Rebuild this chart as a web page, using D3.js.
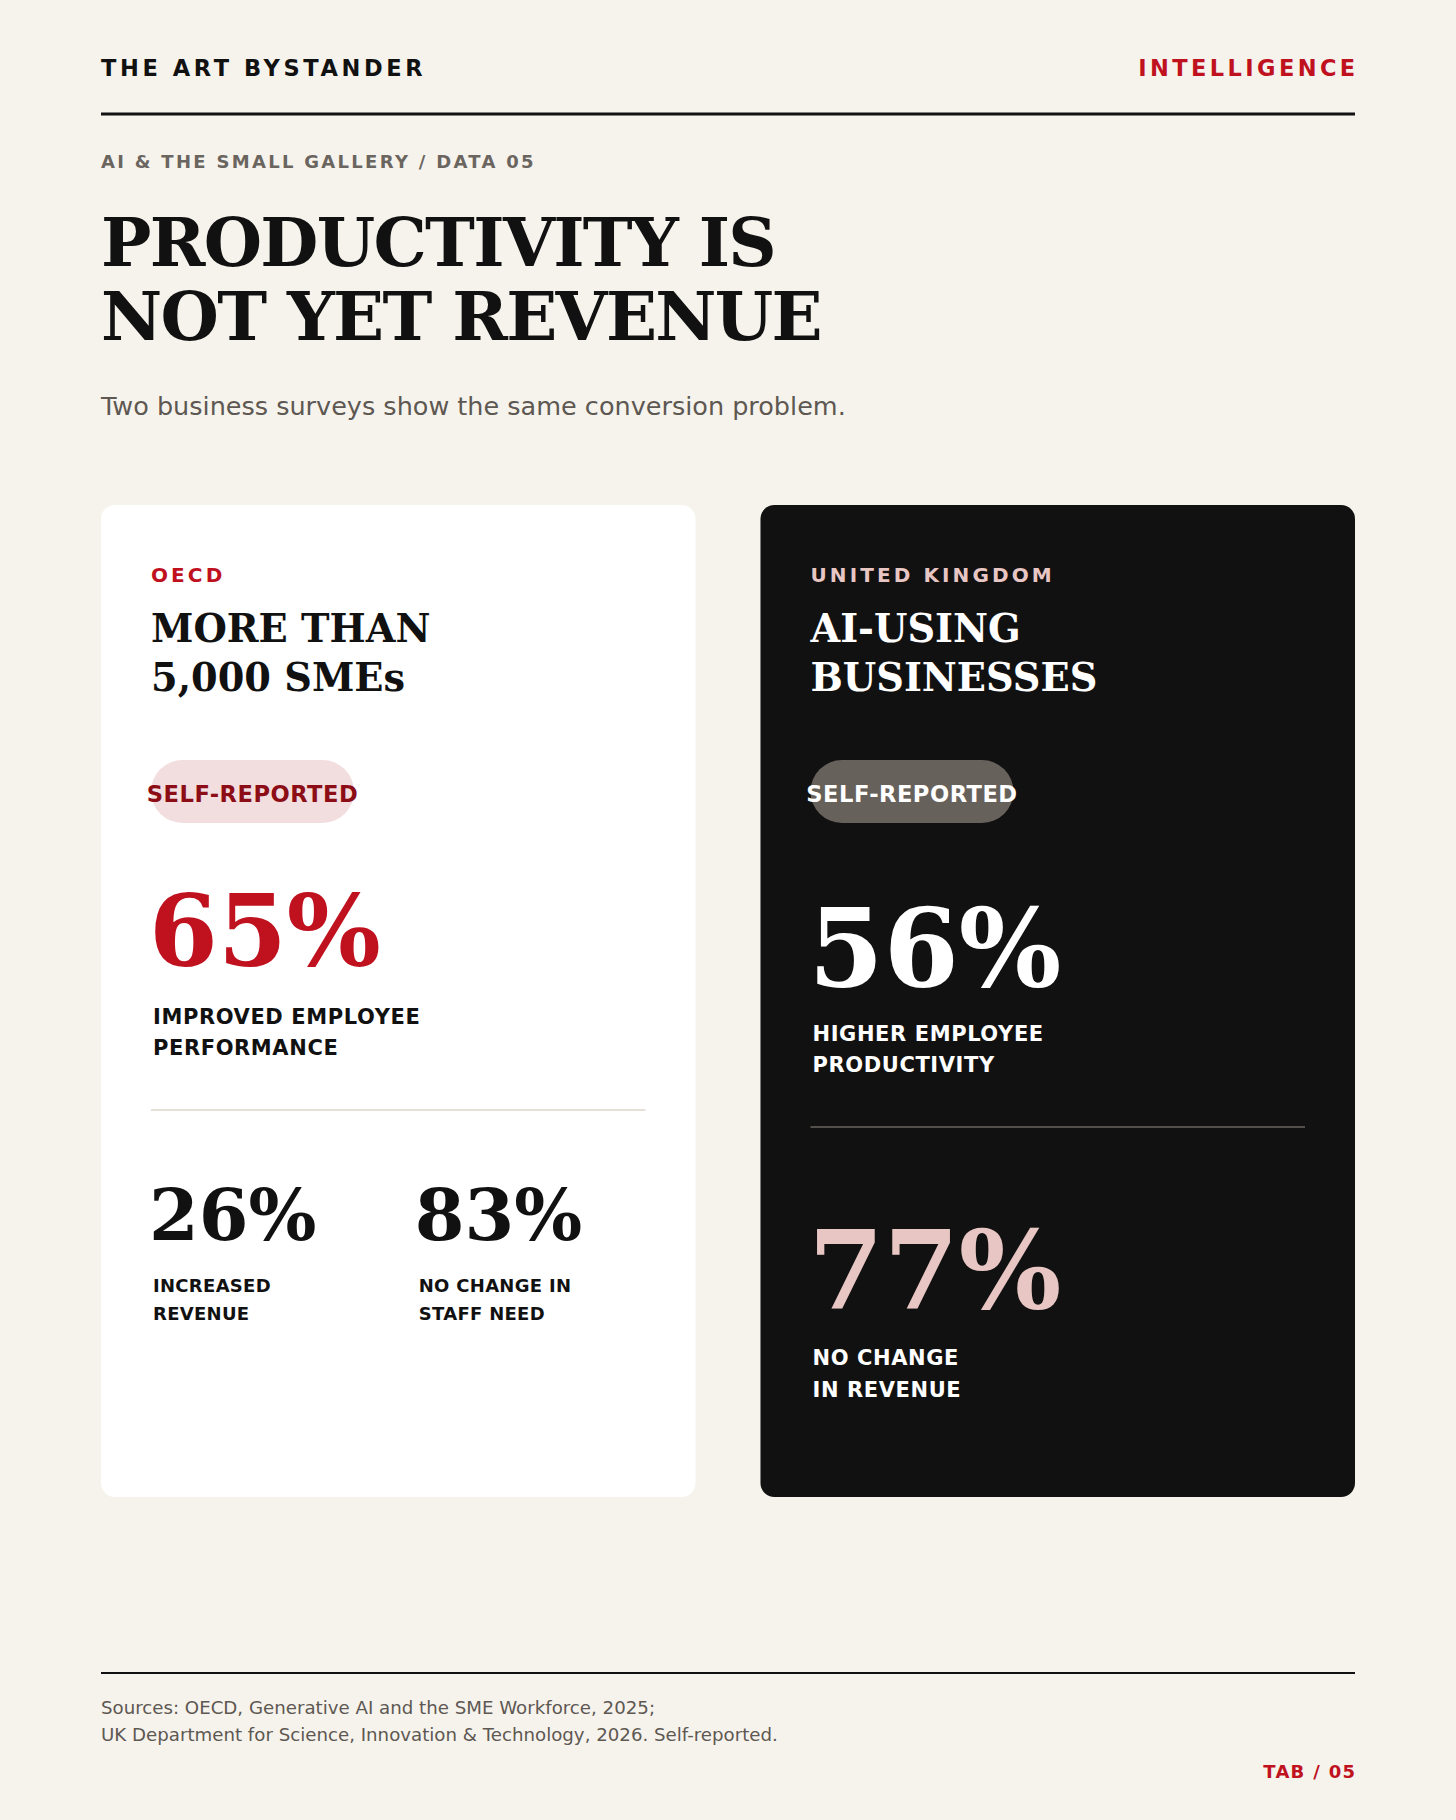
<!DOCTYPE html>
<html>
<head>
<meta charset="utf-8">
<script src="https://cdn.jsdelivr.net/npm/d3@7"></script>
<style>
  html, body { margin: 0; padding: 0; background: #f6f3ed; }
  svg { display: block; }
</style>
</head>
<body>
<div id="chart"></div>
<script>
// ---- data ----
const sources = ["OECD", "UNITED KINGDOM"];
const cohorts = [["MORE THAN", "5,000 SMEs"], ["AI-USING", "BUSINESSES"]];
const badge = ["SELF-REPORTED", "SELF-REPORTED"];
const leadValues = [65, 56];
const leadLabels = [["IMPROVED EMPLOYEE", "PERFORMANCE"], ["HIGHER EMPLOYEE", "PRODUCTIVITY"]];
const oecdSubValues = [26, 83];
const oecdSubLabels = [["INCREASED", "REVENUE"], ["NO CHANGE IN", "STAFF NEED"]];
const ukSubValues = [77];
const ukSubLabels = [["NO CHANGE", "IN REVENUE"]];
const sourceNotes = [
  "Sources: OECD, Generative AI and the SME Workforce, 2025;",
  "UK Department for Science, Innovation & Technology, 2026. Self-reported."
];

const W = 1456, H = 1820;
const sans = "'DejaVu Sans', sans-serif", serif = "'DejaVu Serif', serif";
const red = "#c0111f", ink = "#111111", grey = "#5e5852";

const svg = d3.select('#chart').append('svg')
    .attr('width', W).attr('height', H);

svg.append('rect').attr('width', W).attr('height', H).attr('fill', '#f6f3ed');

const margin = {left: 101, right: 101};
const x0 = margin.left, x1 = W - margin.right;

// masthead
svg.append('text').attr('x', x0).attr('y', 76)
    .attr('font-family', sans).attr('font-weight', 700).attr('font-size', 22.5)
    .attr('letter-spacing', 3.6).attr('fill', ink).text('THE ART BYSTANDER');
svg.append('text').attr('x', x1 + 3.6).attr('y', 76).attr('text-anchor', 'end')
    .attr('font-family', sans).attr('font-weight', 700).attr('font-size', 22.5)
    .attr('letter-spacing', 3.4).attr('fill', red).text('INTELLIGENCE');
svg.append('line').attr('x1', x0).attr('x2', x1).attr('y1', 114).attr('y2', 114)
    .attr('stroke', ink).attr('stroke-width', 3);

svg.append('text').attr('x', x0).attr('y', 168)
    .attr('font-family', sans).attr('font-weight', 700).attr('font-size', 18)
    .attr('letter-spacing', 2.3).attr('fill', '#6b655f').text('AI & THE SMALL GALLERY / DATA 05');

svg.append('g').selectAll('text')
    .data(['PRODUCTIVITY IS', 'NOT YET REVENUE'])
    .join('text')
    .attr('x', x0).attr('y', (d, i) => 266 + i * 74)
    .attr('font-family', serif).attr('font-weight', 700).attr('font-size', 67)
    .attr('letter-spacing', -1.7).attr('fill', ink).text(d => d);

svg.append('text').attr('x', x0).attr('y', 415)
    .attr('font-family', sans).attr('font-size', 25.5).attr('fill', grey)
    .text('Two business surveys show the same conversion problem.');

// cards
const cardX = d3.scaleBand().domain(d3.range(sources.length))
    .range([x0, x1]).paddingInner(0.0985);
const cardTop = 505, cardH = 992, pad = 50;

const themes = [
  {bg: '#ffffff', src: red, head: ink, pill: '#f2dede', pillText: '#8c0d16', lead: red, lab: ink, rule: '#ddd5c8', sub: ink},
  {bg: '#111111', src: '#e8c6c4', head: '#ffffff', pill: '#67615b', pillText: '#ffffff', lead: '#ffffff', lab: '#ffffff', rule: '#6a645e', sub: '#e8c6c4'}
];
const leadSize = [99, 108];
const leadBase = [966, 986];

const cards = svg.selectAll('.card').data(sources).join('g')
    .attr('class', 'card')
    .attr('transform', (d, i) => `translate(${cardX(i)},${cardTop})`);

cards.append('rect').attr('width', cardX.bandwidth()).attr('height', cardH)
    .attr('rx', 14).attr('fill', (d, i) => themes[i].bg);

cards.append('text').attr('x', pad).attr('y', 77)
    .attr('font-family', sans).attr('font-weight', 700).attr('font-size', 20)
    .attr('letter-spacing', 3.1).attr('fill', (d, i) => themes[i].src).text(d => d);

cards.each(function(d, i) {
  const g = d3.select(this), t = themes[i];
  const inner = cardX.bandwidth() - pad * 2;

  g.selectAll('.cohort').data(cohorts[i]).join('text')
      .attr('x', pad).attr('y', (c, j) => 137 + j * 49)
      .attr('font-family', serif).attr('font-weight', 700).attr('font-size', 38.3)
      .attr('fill', t.head).text(c => c);

  // badge
  g.append('rect').attr('x', pad).attr('y', 255).attr('width', 203).attr('height', 63)
      .attr('rx', 31.5).attr('fill', t.pill);
  g.append('text').attr('x', pad + 101.5).attr('y', 296.5).attr('text-anchor', 'middle')
      .attr('font-family', sans).attr('font-weight', 700).attr('font-size', 22.6)
      .attr('letter-spacing', 0.5).attr('fill', t.pillText).text(badge[i]);

  // lead figure
  g.append('text').attr('x', pad - 2).attr('y', leadBase[i] - cardTop)
      .attr('font-family', serif).attr('font-weight', 700).attr('font-size', leadSize[i])
      .attr('fill', t.lead).text(leadValues[i] + '%');
  const lb = (i === 0 ? 1024 : 1041) - cardTop;
  g.selectAll('.lead-lab').data(leadLabels[i]).join('text')
      .attr('x', pad + 2).attr('y', (c, j) => lb + j * 31)
      .attr('font-family', sans).attr('font-weight', 700).attr('font-size', 21)
      .attr('letter-spacing', 0.6).attr('fill', t.lab).text(c => c);

  const ruleY = (i === 0 ? 1110 : 1127) - cardTop;
  g.append('line').attr('x1', pad).attr('x2', pad + inner).attr('y1', ruleY).attr('y2', ruleY)
      .attr('stroke', t.rule).attr('stroke-width', 1.5);

  // secondary figures
  const subs = i === 0 ? oecdSubValues : ukSubValues;
  const subLabs = i === 0 ? oecdSubLabels : ukSubLabels;
  const colX = d3.scaleBand().domain(d3.range(2)).range([pad, pad + inner]).paddingInner(0.139);
  const subSize = i === 0 ? 71.5 : 108;
  const subBase = (i === 0 ? 1240 : 1308) - cardTop;
  const subLabBase = (i === 0 ? 1292 : 1365) - cardTop;
  const subLabStep = i === 0 ? 28 : 32;
  const subLabSize = i === 0 ? 18 : 21;
  const subLabLs = i === 0 ? 0.3 : 0.6;

  const cols = g.selectAll('.sub').data(subs).join('g')
      .attr('transform', (v, j) => `translate(${colX(j)},0)`);
  cols.append('text').attr('x', -2).attr('y', subBase)
      .attr('font-family', serif).attr('font-weight', 700).attr('font-size', subSize)
      .attr('fill', t.sub).text(v => v + '%');
  cols.each(function(v, j) {
    d3.select(this).selectAll('.sl').data(subLabs[j]).join('text')
        .attr('x', 2).attr('y', (c, k) => subLabBase + k * subLabStep)
        .attr('font-family', sans).attr('font-weight', 700).attr('font-size', subLabSize)
        .attr('letter-spacing', subLabLs).attr('fill', t.lab).text(c => c);
  });
});

// footer
svg.append('line').attr('x1', x0).attr('x2', x1).attr('y1', 1673).attr('y2', 1673)
    .attr('stroke', ink).attr('stroke-width', 2);
svg.append('g').selectAll('text').data(sourceNotes).join('text')
    .attr('x', x0).attr('y', (d, i) => 1714 + i * 27)
    .attr('font-family', sans).attr('font-size', 18.2).attr('fill', grey).text(d => d);
svg.append('text').attr('x', x1 + 1.3).attr('y', 1778).attr('text-anchor', 'end')
    .attr('font-family', sans).attr('font-weight', 700).attr('font-size', 18)
    .attr('letter-spacing', 1.3).attr('fill', red).text('TAB / 05');
</script>
</body>
</html>
